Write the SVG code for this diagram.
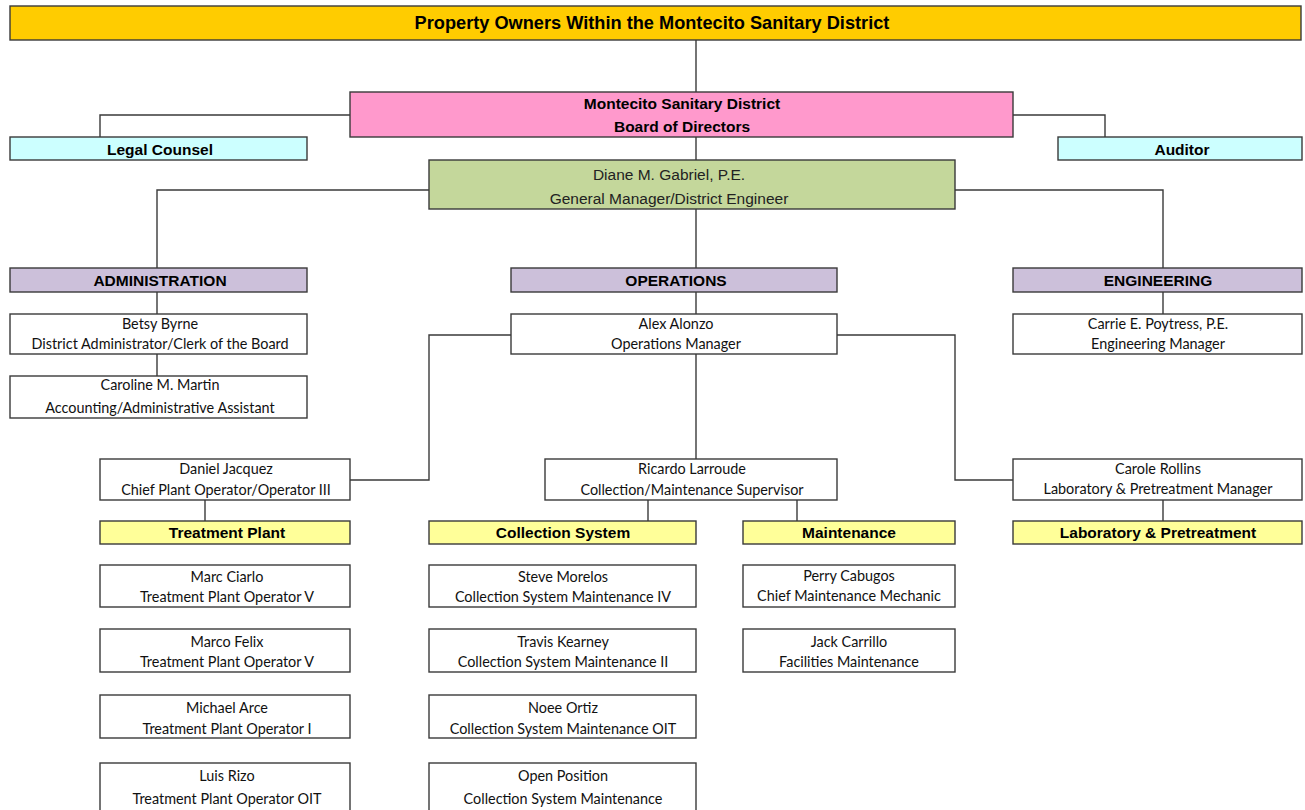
<svg xmlns="http://www.w3.org/2000/svg" width="1305" height="810" viewBox="0 0 1305 810">
<style>
rect{stroke:#3a3a3a;stroke-width:1.4}
.w{fill:#ffffff}
.title{fill:#ffcc00}
.board{fill:#ff99cc}
.cyan{fill:#ccffff}
.gm{fill:#c4d79b}
.div{fill:#ccc0da}
.team{fill:#ffff99}
.b{font-family:"Liberation Sans",Arial,sans-serif;font-weight:bold;font-size:15.5px;fill:#000;text-anchor:middle}
.t{font-family:"Liberation Sans",Arial,sans-serif;font-weight:bold;font-size:18.2px;fill:#000;text-anchor:middle}
.g{font-family:"Liberation Sans",Arial,sans-serif;font-size:15.5px;fill:#222;text-anchor:middle}
.p{font-family:Lato,"Open Sans",sans-serif;font-size:14.4px;fill:#111;text-anchor:middle}
.c{fill:none;stroke:#3a3a3a;stroke-width:1.4}
</style>
<g id="connectors">
<path class="c" d="M696 40V92"/>
<path class="c" d="M350 115H100V137"/>
<path class="c" d="M1013 115H1105V137"/>
<path class="c" d="M696 137V160"/>
<path class="c" d="M429 190H157V268"/>
<path class="c" d="M955 190H1163V268"/>
<path class="c" d="M696 209V268"/>
<path class="c" d="M157 292V314"/>
<path class="c" d="M157 354V376"/>
<path class="c" d="M696 292V314"/>
<path class="c" d="M1163 292V314"/>
<path class="c" d="M511 335H429V480H350"/>
<path class="c" d="M837 335H955V480H1013"/>
<path class="c" d="M696 354V459"/>
<path class="c" d="M205 500V521"/>
<path class="c" d="M648 500V521"/>
<path class="c" d="M797 500V521"/>
<path class="c" d="M1163 500V521"/>
</g>
<g id="n-title"><rect class="title" x="10" y="6" width="1291" height="34"/><text class="t" x="652" y="28.5">Property Owners Within the Montecito Sanitary District</text></g>
<g id="n-board"><rect class="board" x="350" y="92" width="663" height="45"/><text class="b" x="682" y="108.5">Montecito Sanitary District</text><text class="b" x="682" y="131.5">Board of Directors</text></g>
<g id="n-legal"><rect class="cyan" x="10" y="137" width="297" height="23"/><text class="b" x="160" y="154.5">Legal Counsel</text></g>
<g id="n-auditor"><rect class="cyan" x="1058" y="137" width="244" height="23"/><text class="b" x="1182" y="154.5">Auditor</text></g>
<g id="n-gm"><rect class="gm" x="429" y="160" width="526" height="49"/><text class="g" x="669" y="179.5">Diane M. Gabriel, P.E.</text><text class="g" x="669" y="203.5">General Manager/District Engineer</text></g>
<g id="n-admin"><rect class="div" x="10" y="268" width="297" height="24"/><text class="b" x="160" y="285.5">ADMINISTRATION</text></g>
<g id="n-ops"><rect class="div" x="511" y="268" width="326" height="24"/><text class="b" x="676" y="285.5">OPERATIONS</text></g>
<g id="n-eng"><rect class="div" x="1013" y="268" width="289" height="24"/><text class="b" x="1158" y="285.5">ENGINEERING</text></g>
<g id="n-betsy"><rect class="w" x="10" y="314" width="297" height="40"/><text class="p" x="160" y="329">Betsy Byrne</text><text class="p" x="160" y="349">District Administrator/Clerk of the Board</text></g>
<g id="n-caroline"><rect class="w" x="10" y="376" width="297" height="42"/><text class="p" x="160" y="390">Caroline M. Martin</text><text class="p" x="160" y="413">Accounting/Administrative Assistant</text></g>
<g id="n-alex"><rect class="w" x="511" y="314" width="326" height="40"/><text class="p" x="676" y="329">Alex Alonzo</text><text class="p" x="676" y="349">Operations Manager</text></g>
<g id="n-carrie"><rect class="w" x="1013" y="314" width="289" height="40"/><text class="p" x="1158" y="329">Carrie E. Poytress, P.E.</text><text class="p" x="1158" y="349">Engineering Manager</text></g>
<g id="n-daniel"><rect class="w" x="100" y="459" width="250" height="41"/><text class="p" x="226" y="474">Daniel Jacquez</text><text class="p" x="226" y="495">Chief Plant Operator/Operator III</text></g>
<g id="n-ricardo"><rect class="w" x="545" y="459" width="292" height="41"/><text class="p" x="692" y="474">Ricardo Larroude</text><text class="p" x="692" y="495">Collection/Maintenance Supervisor</text></g>
<g id="n-carole"><rect class="w" x="1013" y="459" width="289" height="41"/><text class="p" x="1158" y="474">Carole Rollins</text><text class="p" x="1158" y="494">Laboratory &amp; Pretreatment Manager</text></g>
<g id="n-tp"><rect class="team" x="100" y="521" width="250" height="23"/><text class="b" x="227" y="538">Treatment Plant</text></g>
<g id="n-cs"><rect class="team" x="429" y="521" width="267" height="23"/><text class="b" x="563" y="538">Collection System</text></g>
<g id="n-mt"><rect class="team" x="743" y="521" width="212" height="23"/><text class="b" x="849" y="538">Maintenance</text></g>
<g id="n-lab"><rect class="team" x="1013" y="521" width="289" height="23"/><text class="b" x="1158" y="538">Laboratory &amp; Pretreatment</text></g>
<g id="n-marc"><rect class="w" x="100" y="565" width="250" height="42"/><text class="p" x="227" y="582">Marc Ciarlo</text><text class="p" x="227" y="602">Treatment Plant Operator V</text></g>
<g id="n-marco"><rect class="w" x="100" y="629" width="250" height="43"/><text class="p" x="227" y="647">Marco Felix</text><text class="p" x="227" y="667">Treatment Plant Operator V</text></g>
<g id="n-michael"><rect class="w" x="100" y="695" width="250" height="43"/><text class="p" x="227" y="713">Michael Arce</text><text class="p" x="227" y="734">Treatment Plant Operator I</text></g>
<g id="n-luis"><rect class="w" x="100" y="763" width="250" height="48"/><text class="p" x="227" y="781">Luis Rizo</text><text class="p" x="227" y="804">Treatment Plant Operator OIT</text></g>
<g id="n-steve"><rect class="w" x="429" y="565" width="267" height="42"/><text class="p" x="563" y="582">Steve Morelos</text><text class="p" x="563" y="602">Collection System Maintenance IV</text></g>
<g id="n-travis"><rect class="w" x="429" y="629" width="267" height="43"/><text class="p" x="563" y="647">Travis Kearney</text><text class="p" x="563" y="667">Collection System Maintenance II</text></g>
<g id="n-noee"><rect class="w" x="429" y="695" width="267" height="43"/><text class="p" x="563" y="713">Noee Ortiz</text><text class="p" x="563" y="734">Collection System Maintenance OIT</text></g>
<g id="n-open"><rect class="w" x="429" y="763" width="267" height="48"/><text class="p" x="563" y="781">Open Position</text><text class="p" x="563" y="804">Collection System Maintenance</text></g>
<g id="n-perry"><rect class="w" x="743" y="565" width="212" height="42"/><text class="p" x="849" y="581">Perry Cabugos</text><text class="p" x="849" y="601">Chief Maintenance Mechanic</text></g>
<g id="n-jack"><rect class="w" x="743" y="629" width="212" height="43"/><text class="p" x="849" y="647">Jack Carrillo</text><text class="p" x="849" y="667">Facilities Maintenance</text></g>
</svg>
